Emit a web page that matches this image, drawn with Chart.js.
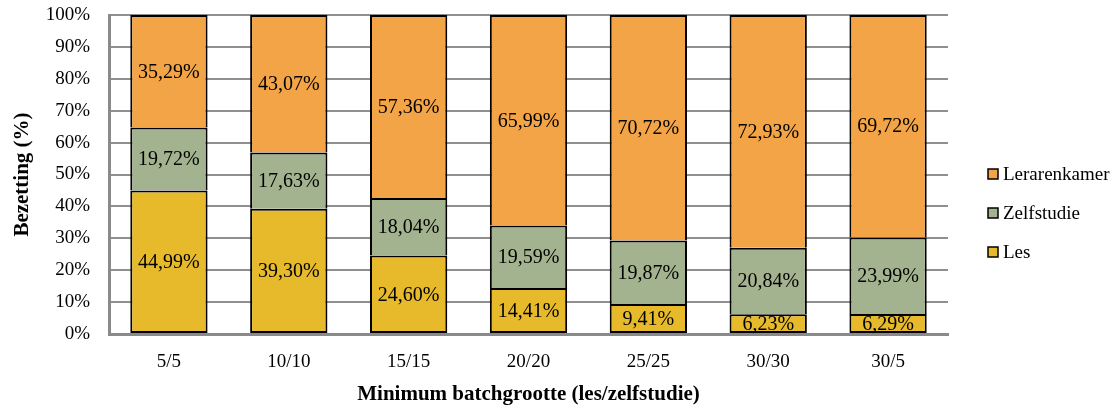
<!DOCTYPE html>
<html>
<head>
<meta charset="utf-8">
<script src="https://cdn.jsdelivr.net/npm/chart.js@4/dist/chart.umd.min.js"></script>
<style>
  html, body { margin: 0; padding: 0; background: #ffffff; }
  #wrap { width: 1120px; height: 407px; position: relative; }
</style>
</head>
<body>
<div id="wrap"><canvas id="c" width="1120" height="407"></canvas></div>
<script>
// Occupancy per minimum batch size (lesson / self-study)
const categories = ['5/5', '10/10', '15/15', '20/20', '25/25', '30/30', '30/5'];
const les          = [44.99, 39.30, 24.60, 14.41, 9.41, 6.23, 6.29];
const zelfstudie   = [19.72, 17.63, 18.04, 19.59, 19.87, 20.84, 23.99];
const lerarenkamer = [35.29, 43.07, 57.36, 65.99, 70.72, 72.93, 69.72];
const yTicks = [0, 10, 20, 30, 40, 50, 60, 70, 80, 90, 100];

const FONT = "'Liberation Serif', 'DejaVu Serif', serif";
const colors = { les: '#E6BA2A', zelf: '#A4B38F', leraar: '#F2A446' };

const fmt = v => v.toFixed(2).replace('.', ',') + '%';

// Percentage labels centred in each bar segment
const segmentLabels = {
  id: 'segmentLabels',
  afterDatasetsDraw(chart) {
    const ctx = chart.ctx;
    ctx.save();
    ctx.font = '20px ' + FONT;
    ctx.fillStyle = '#000';
    ctx.textAlign = 'center';
    ctx.textBaseline = 'middle';
    chart.data.datasets.forEach((ds, di) => {
      const meta = chart.getDatasetMeta(di);
      meta.data.forEach((bar, i) => {
        const p = bar.getProps(['x', 'y', 'base'], true);
        ctx.fillText(fmt(ds.data[i]), p.x, (p.y + p.base) / 2 + 1);
      });
    });
    ctx.restore();
  }
};

// Legend on the right, listed top-down from the upper stack segment
const sideLegend = {
  id: 'sideLegend',
  afterDraw(chart) {
    const ctx = chart.ctx;
    const items = chart.data.datasets.slice().reverse();
    ctx.save();
    ctx.font = '19px ' + FONT;
    ctx.textBaseline = 'middle';
    ctx.textAlign = 'left';
    items.forEach((ds, k) => {
      const y = 174 + k * 39;
      ctx.fillStyle = ds.backgroundColor;
      ctx.fillRect(988, y - 5, 10, 10);
      ctx.strokeStyle = '#000';
      ctx.lineWidth = 1.5;
      ctx.strokeRect(988, y - 5, 10, 10);
      ctx.fillStyle = '#000';
      ctx.fillText(ds.label, 1003, y + 1);
    });
    ctx.restore();
  }
};

const barStyle = { borderColor: '#000', borderSkipped: false,
  barPercentage: 0.645, categoryPercentage: 1 };
const fullBorder = { top: 2, bottom: 2, left: 2, right: 2 };
const openBottom = { top: 2, bottom: 0, left: 2, right: 2 };

new Chart(document.getElementById('c'), {
  type: 'bar',
  data: {
    labels: categories,
    datasets: [
      Object.assign({ label: 'Les', data: les, backgroundColor: colors.les, borderWidth: fullBorder }, barStyle),
      Object.assign({ label: 'Zelfstudie', data: zelfstudie, backgroundColor: colors.zelf, borderWidth: openBottom }, barStyle),
      Object.assign({ label: 'Lerarenkamer', data: lerarenkamer, backgroundColor: colors.leraar, borderWidth: openBottom }, barStyle)
    ]
  },
  options: {
    responsive: false,
    animation: false,
    layout: { padding: { left: 10, right: 172, top: 15, bottom: 0 } },
    plugins: { legend: { display: false }, tooltip: { enabled: false } },
    scales: {
      x: {
        stacked: true,
        grid: { display: false, drawTicks: false },
        border: { display: true, color: '#8a8a8a', width: 3 },
        ticks: { color: '#000', font: { family: FONT, size: 19 }, padding: 17 },
        title: { display: true, text: 'Minimum batchgrootte (les/zelfstudie)', color: '#000',
          font: { family: FONT, size: 21, weight: 'bold' }, padding: { top: 14, bottom: 0 } },
        afterFit(s) { s.height = 73; s.paddingLeft = 0; s.paddingRight = 0; }
      },
      y: {
        stacked: true,
        min: 0, max: 100,
        afterBuildTicks(s) { s.ticks = yTicks.map(v => ({ value: v })); },
        grid: { color: '#8f8f8f', lineWidth: 2, drawTicks: false },
        border: { display: true, color: '#8a8a8a', width: 3 },
        ticks: { color: '#000', font: { family: FONT, size: 19 }, padding: 19,
          callback: v => v + '%' },
        title: { display: true, text: 'Bezetting (%)', color: '#000',
          font: { family: FONT, size: 21, weight: 'bold' }, padding: { top: 0, bottom: 0 } },
        afterFit(s) { s.width = 99; s.paddingTop = 0; s.paddingBottom = 0; }
      }
    }
  },
  plugins: [segmentLabels, sideLegend]
});
</script>
</body>
</html>
